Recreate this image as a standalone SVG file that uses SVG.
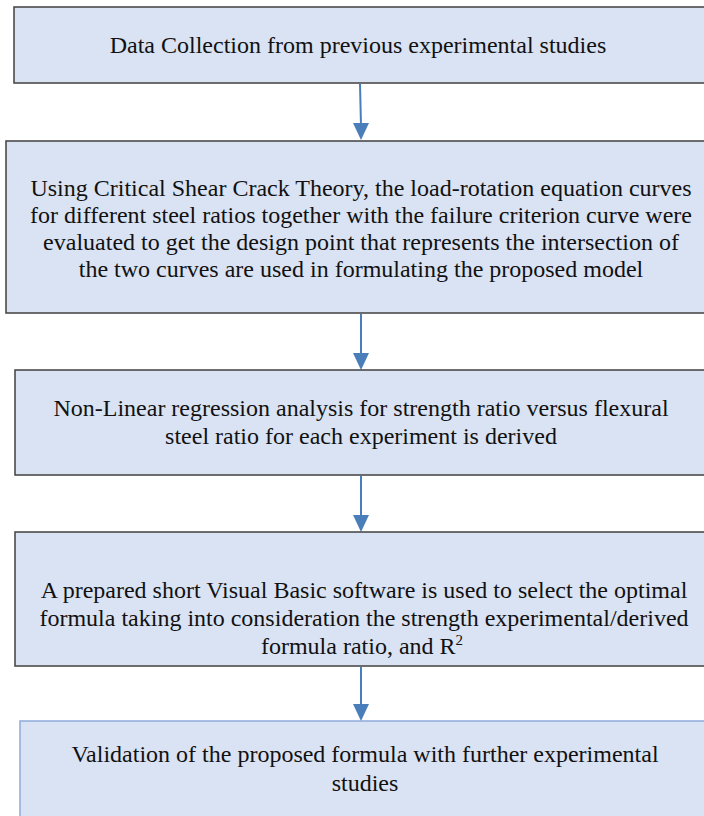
<svg xmlns="http://www.w3.org/2000/svg" width="704" height="816" viewBox="0 0 704 816">
<style>
  .box { fill: #dae3f3; stroke: #404040; stroke-width: 1.5; }
  .box5 { fill: #dae3f3; stroke: #8faadc; stroke-width: 1.5; }
  .lbl { font-family: "Liberation Serif", "Times New Roman", serif; font-size: 24px; fill: #111; text-anchor: middle; }
  .conn { stroke: #4a7ebb; stroke-width: 2; fill: none; }
  .head { fill: #4a7ebb; }
</style>
<rect width="704" height="816" fill="#ffffff"/>
<g id="connectors">
  <line class="conn" x1="360" y1="84" x2="361" y2="126"/>
  <polygon class="head" points="353,123 369,123 361,140"/>
  <line class="conn" x1="361" y1="314" x2="361" y2="356"/>
  <polygon class="head" points="353,353 369,353 361,370"/>
  <line class="conn" x1="361" y1="476" x2="361" y2="518"/>
  <polygon class="head" points="353,515 369,515 361,532"/>
  <line class="conn" x1="361" y1="667" x2="361" y2="707"/>
  <polygon class="head" points="353,704 369,704 361,721"/>
</g>
<g id="node1">
  <rect class="box" x="14" y="7" width="700" height="76"/>
  <text class="lbl" x="358" y="53">Data Collection from previous experimental studies</text>
</g>
<g id="node2">
  <rect class="box" x="6" y="141" width="710" height="172"/>
  <text class="lbl" x="361" y="196">Using Critical Shear Crack Theory, the load-rotation equation curves</text>
  <text class="lbl" x="361" y="223">for different steel ratios together with the failure criterion curve were</text>
  <text class="lbl" x="361" y="250">evaluated to get the design point that represents the intersection of</text>
  <text class="lbl" x="361" y="277">the two curves are used in formulating the proposed model</text>
</g>
<g id="node3">
  <rect class="box" x="15" y="370" width="700" height="105"/>
  <text class="lbl" x="361" y="416">Non-Linear regression analysis for strength ratio versus flexural</text>
  <text class="lbl" x="361" y="444">steel ratio for each experiment is derived</text>
</g>
<g id="node4">
  <rect class="box" x="15" y="532" width="700" height="134"/>
  <text class="lbl" x="364" y="598">A prepared short Visual Basic software is used to select the optimal</text>
  <text class="lbl" x="364" y="626">formula taking into consideration the strength experimental/derived</text>
  <text class="lbl" x="362" y="654">formula ratio, and R<tspan font-size="15" dy="-9">2</tspan></text>
</g>
<g id="node5">
  <rect class="box5" x="20" y="721" width="700" height="110"/>
  <text class="lbl" x="365" y="762">Validation of the proposed formula with further experimental</text>
  <text class="lbl" x="365" y="791">studies</text>
</g>
</svg>
